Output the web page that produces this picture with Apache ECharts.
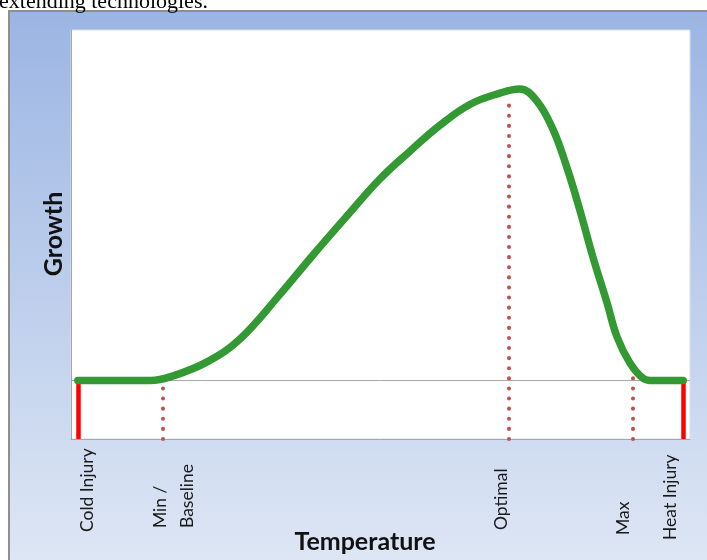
<!DOCTYPE html>
<html>
<head>
<meta charset="utf-8">
<script src="https://cdn.jsdelivr.net/npm/echarts@6/dist/echarts.min.js"></script>
<style>
  html, body { margin: 0; padding: 0; background: #ffffff; }
  #chart { width: 707px; height: 560px; }
</style>
</head>
<body>
<div id="chart"></div>
<script>
// ---- data ----
const temperature = [1.1, 12.8, 16.5, 22.0, 27.3, 33.8, 39.1, 44.6, 49.9, 54.8, 59.6, 64.5, 69.3, 72.5, 75.3, 77.9, 80.1, 82.2, 84.3, 86.6, 88.2, 90.3, 92.4, 94.0, 98.9];
const growth      = [0, 0, 0.08, 0.32, 0.71, 1.48, 2.15, 2.82, 3.45, 3.93, 4.37, 4.73, 4.92, 4.99, 4.78, 4.29, 3.65, 2.92, 2.12, 1.33, 0.75, 0.30, 0.04, 0, 0];
const markerNames = ['Cold Injury', 'Min /\nBaseline', 'Optimal', 'Max', 'Heat Injury'];
const markerTemps = [1.1, 14.9, 70.7, 90.8, 98.9];
const markerTops  = [0, 0, 4.85, 0.2, 0];
const markerKinds = ['injury', 'threshold', 'threshold', 'threshold', 'injury'];
const xTitle = 'Temperature';
const yTitle = 'Growth';
const caption = 'extending technologies.';

// ---- styles (label placement in pixels, relative to marker foot) ----
const labelDx = [10, 10.5, -7, -10, -13];
const labelDy = [93, 89, 91, 96, 101];

const chart = echarts.init(document.getElementById('chart'), null, { renderer: 'canvas' });

const curve = temperature.map((t, i) => [t, growth[i]]);
const injuryLines = [], thresholdLines = [];
markerTemps.forEach((t, i) => {
  const seg = [{ coord: [t, -1] }, { coord: [t, markerTops[i]] }];
  (markerKinds[i] === 'injury' ? injuryLines : thresholdLines).push(seg);
});

const option = {
  animation: false,
  backgroundColor: 'transparent',
  graphic: [
    {
      type: 'rect', z: -100, silent: true,
      shape: { x: 9, y: 11, width: 720, height: 570 },
      style: {
        fill: new echarts.graphic.LinearGradient(0, 0, 0, 1, [
          { offset: 0, color: '#9bb5e3' },
          { offset: 1, color: '#e0e8f5' }
        ]),
        stroke: '#8f8f8f', lineWidth: 2
      }
    },
    {
      type: 'text', silent: true, x: -1, y: 13,
      style: { text: caption, font: '22px "Liberation Serif"', fill: '#000', verticalAlign: 'bottom' }
    },
    {
      type: 'text', silent: true, x: 365, y: 542,
      style: { text: xTitle, font: 'bold 25px Lato', fill: '#111', align: 'center', verticalAlign: 'middle' }
    },
    {
      type: 'text', silent: true, x: 54, y: 234, rotation: Math.PI / 2,
      style: { text: yTitle, font: 'bold 25px Lato', fill: '#111', align: 'center', verticalAlign: 'middle' }
    }
  ],
  grid: {
    left: 71, top: 30, width: 619, height: 409,
    show: true, backgroundColor: '#ffffff', borderColor: '#d6e0f0', borderWidth: 1
  },
  xAxis: {
    type: 'value', min: 0, max: 100,
    axisLine: { show: true, onZero: false, lineStyle: { color: '#a6a6a6', width: 1 } },
    axisTick: { show: false }, axisLabel: { show: false }, splitLine: { show: false }
  },
  yAxis: {
    type: 'value', min: -1, max: 6,
    axisLine: { show: true, onZero: false, lineStyle: { color: '#a6a6a6', width: 1 } },
    axisTick: { show: false }, axisLabel: { show: false }, splitLine: { show: false }
  },
  series: [
    {
      type: 'line', name: 'baseline', silent: true, z: 1,
      data: [[0, 0], [100, 0]], symbol: 'none',
      lineStyle: { color: '#a6a6a6', width: 1 }
    },
    {
      type: 'line', name: 'thresholds', silent: true, z: 2, data: [],
      markLine: {
        silent: true, symbol: ['none', 'none'], label: { show: false },
        lineStyle: { color: '#c0504d', width: 4, type: [0.1, 10], cap: 'round' },
        data: thresholdLines
      }
    },
    {
      type: 'line', name: 'injury', silent: true, z: 3, data: [],
      markLine: {
        silent: true, symbol: ['none', 'none'], label: { show: false },
        lineStyle: { color: '#ff0000', width: 4.5, type: 'solid' },
        data: injuryLines
      }
    },
    {
      type: 'line', name: 'Growth', z: 5, data: curve,
      smooth: 0.4, symbol: 'none',
      lineStyle: { color: '#339933', width: 7.5, cap: 'round', join: 'round' }
    },
    {
      type: 'custom', name: 'labels', silent: true, clip: false, z: 6,
      data: markerTemps.map((t, i) => [t, -1, i]),
      encode: { x: 0, y: 1 },
      renderItem: function (params, api) {
        const i = api.value(2);
        const p = api.coord([api.value(0), api.value(1)]);
        return {
          type: 'text',
          x: p[0] + labelDx[i],
          y: p[1] + labelDy[i],
          rotation: Math.PI / 2,
          style: {
            text: markerNames[i],
            font: '17.5px Lato',
            fill: '#1a1a1a',
            align: 'left',
            verticalAlign: 'middle',
            lineHeight: 27
          }
        };
      }
    }
  ]
};
chart.setOption(option);
</script>
</body>
</html>
